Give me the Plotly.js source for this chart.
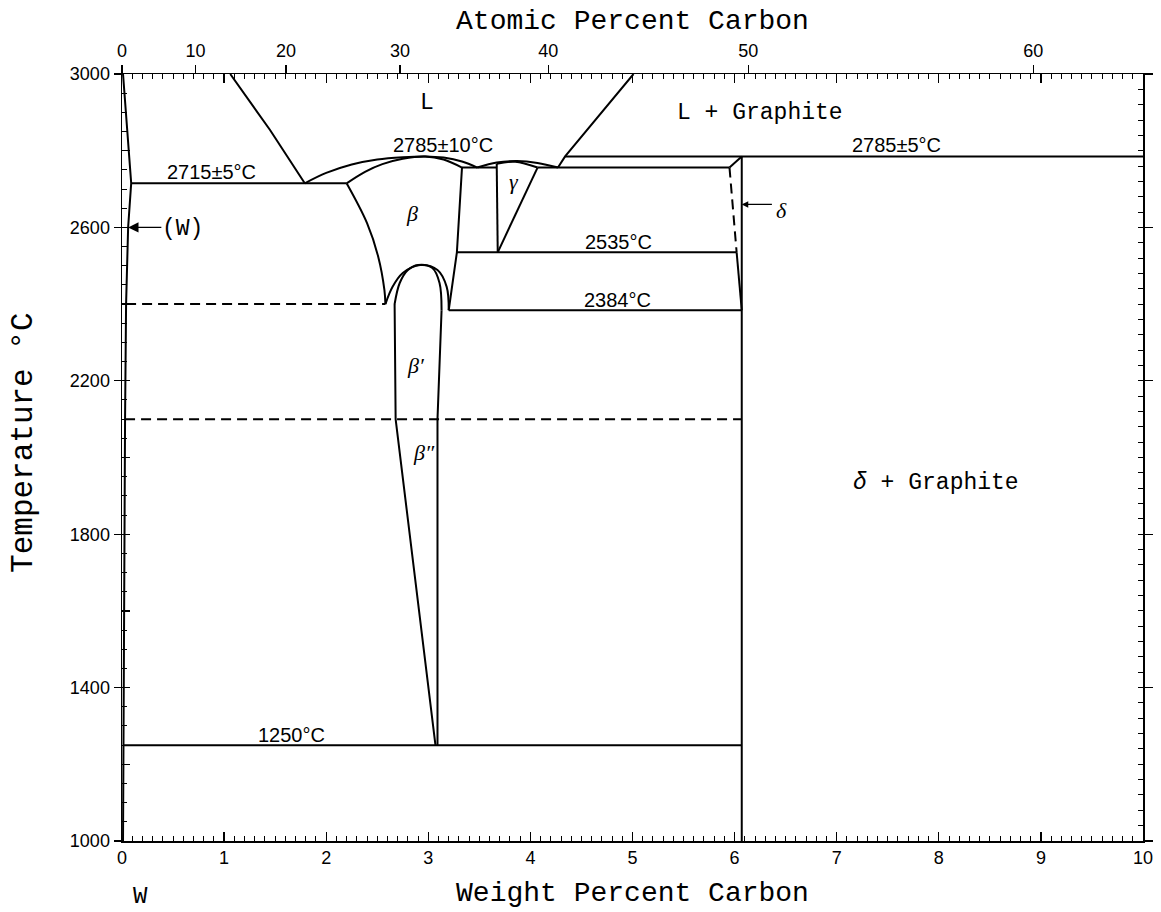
<!DOCTYPE html>
<html><head><meta charset="utf-8">
<script src="https://cdn.plot.ly/plotly-3.0.1.min.js"></script>
<style>html,body{margin:0;padding:0;background:#fff}#chart{width:1161px;height:912px}</style>
</head><body><div id="chart"></div>
<script>
// ---- phase boundaries: [weight % C, temperature °C] ----
const wSolidusSolvus = [[0.01,3000],[0.09,2715],[0.06,2600],[0.04,2400],[0.03,2100],[0.02,1250],[0.01,1000]];
const liquidusW      = [[1.06,3000],[1.45,2854],[1.79,2715]];
const eutectic2715   = [[0.09,2715],[2.20,2715]];
const liquidusBeta   = [[1.79,2715],[2.00,2742],[2.25,2764],[2.50,2777],[2.75,2783],[2.97,2785],[3.15,2782],[3.33,2772],[3.48,2756]];
const solidusBeta    = [[2.20,2715],[2.38,2745],[2.55,2765],[2.75,2779],[2.97,2785],[3.15,2777],[3.33,2756]];
const eutecticBG     = [[3.33,2756],[3.67,2756]];
const liquidusGamma  = [[3.48,2756],[3.67,2769],[3.87,2773],[4.07,2768],[4.27,2756]];
const solidusGamma   = [[3.67,2766],[3.85,2771],[4.07,2756]];
const gammaLeft      = [[3.67,2766],[3.68,2535]];
const gammaRight     = [[4.07,2756],[3.68,2535]];
const eutecticGD     = [[4.07,2756],[5.95,2756]];
const liquidusC      = [[4.27,2756],[4.34,2785],[5.01,3000]];
const line2785       = [[4.34,2785],[10,2785]];
const deltaTop       = [[5.95,2756],[6.07,2785]];
const deltaRight     = [[6.07,2785],[6.07,1000]];
const deltaLeftDash  = [[5.95,2756],[6.02,2535]];
const deltaLeftSolid = [[6.02,2535],[6.07,2384]];
const line2535       = [[3.28,2535],[6.02,2535]];
const line2384       = [[3.20,2384],[6.07,2384]];
const betaRight      = [[3.33,2756],[3.28,2535],[3.20,2384]];
const betaLeftLow    = [[2.20,2715],[2.40,2611],[2.51,2523],[2.57,2437],[2.58,2400]];
const dashed2400     = [[0.04,2400],[2.58,2400]];
const outerArch      = [[2.58,2400],[2.65,2445],[2.75,2481],[2.92,2502],[3.09,2489],[3.18,2445],[3.20,2384]];
const innerArch      = [[2.67,2400],[2.72,2455],[2.80,2489],[2.90,2502],[3.04,2494],[3.11,2455],[3.13,2384]];
const betaPrimeLeft  = [[2.67,2400],[2.68,2100],[3.07,1250]];
const betaPrimeRight = [[3.13,2384],[3.09,2100],[3.09,1250]];
const dashed2100     = [[0.03,2100],[6.07,2100]];
const line1250       = [[0.02,1250],[6.07,1250]];

// ---- axis ticks ----
const wtTicks = [0,1,2,3,4,5,6,7,8,9,10];
const atTicks = [0,10,20,30,40,50,60];
const tempTicks = [1000,1400,1800,2200,2600,3000];

// ---- region / isotherm labels ----
const labelTexts = ['L','L + Graphite','2785±10°C','2715±5°C','β','γ','2535°C','2384°C','δ','2785±5°C','β′','β″','1250°C','δ + Graphite'];
const labelX     = [2.99, 6.25, 3.14, 0.88, 2.84, 3.84, 4.86, 4.85, 6.46, 7.59, 2.88, 2.96, 1.66, 7.97];
const labelY     = [2924, 2898, 2815, 2745, 2637, 2721, 2562, 2411, 2643, 2815, 2239, 2012, 1276, 1934];

const M_C = 12.011, M_W = 183.84;
function atToWt(a){ return 100*a*M_C/(a*M_C+(100-a)*M_W); }

const solid = [wSolidusSolvus, liquidusW, eutectic2715, eutecticBG, gammaLeft, gammaRight,
  eutecticGD, liquidusC, line2785, deltaTop, deltaRight, deltaLeftSolid, line2535, line2384,
  betaRight, betaPrimeLeft, betaPrimeRight, line1250];
const curved = [liquidusBeta, solidusBeta, liquidusGamma, solidusGamma, betaLeftLow, outerArch, innerArch];
const dashed = [deltaLeftDash, dashed2400, dashed2100];

const traces = [];
function add(pts, dash, shape){
  traces.push({type:'scatter', mode:'lines', x:pts.map(p=>p[0]), y:pts.map(p=>p[1]),
    line:{color:'#000', width:2, dash:dash, shape:shape, smoothing:1}, hoverinfo:'skip', showlegend:false});
}
solid.forEach(p=>add(p,'solid','linear'));
curved.forEach(p=>add(p,'solid','spline'));
dashed.forEach(p=>add(p,'10px,6px','linear'));
// invisible traces anchoring overlay axes
[['x2','y2'],['x3','y3'],['x4','y4'],['x5','y5']].forEach(a=>{
  traces.push({type:'scatter',x:[0],y:[1000],xaxis:a[0],yaxis:a[1],mode:'markers',marker:{opacity:0},showlegend:false,hoverinfo:'skip'});
});

const NUM = 'Liberation Sans, Arial, sans-serif';
const MONO = 'Liberation Mono, Courier New, monospace';
const SERIF = 'Liberation Serif, Times New Roman, serif';

const annotations = labelTexts.map((t,i)=>{
  const greek = /^[βγδ]/.test(t) && t.length<=2;
  const mono = (t==='L'||t.indexOf('Graphite')>=0);
  return {x:labelX[i], y:labelY[i], xref:'x', yref:'y', showarrow:false,
    text: greek ? '<i>'+t+'</i>' : (t.indexOf('Graphite')>=0 && t[0]==='δ' ? '<i>δ</i>'+t.slice(1) : t),
    font:{family: mono ? MONO : (greek? SERIF : NUM), size: greek?22:(mono?23:20), color:'#000'}};
});
annotations.push({x:0.06, y:2600, xref:'x', yref:'y', ax:0.40, ay:2600, axref:'x', ayref:'y',
  showarrow:true, arrowhead:2, arrowsize:1.6, arrowwidth:1.3, arrowcolor:'#000', text:''});
annotations.push({x:0.59, y:2597, xref:'x', yref:'y', showarrow:false, text:'(W)', font:{family:MONO,size:23,color:'#000'}});
annotations.push({x:6.07, y:2660, xref:'x', yref:'y', ax:6.38, ay:2660, axref:'x', ayref:'y',
  showarrow:true, arrowhead:2, arrowsize:1, arrowwidth:1.3, arrowcolor:'#000', text:''});
annotations.push({x:0.18, y:-0.073, xref:'x', yref:'paper', yanchor:'middle', showarrow:false, text:'W', font:{family:MONO,size:24,color:'#000'}});
// vertical axis title (placed to match the reference's offset)
annotations.push({x:-0.096, y:0.519, xref:'paper', yref:'paper', xanchor:'center', yanchor:'middle', textangle:-90,
  showarrow:false, text:'Temperature °C', font:{family:MONO, size:31, color:'#000'}});

const base = {range:[0,10], showgrid:false, zeroline:false, tickcolor:'#000'};
const baseY = {range:[1000,3000], showgrid:false, zeroline:false, tickcolor:'#000'};
const layout = {
  width:1161, height:912, margin:{l:122, r:18, t:74, b:71},
  paper_bgcolor:'#fff', plot_bgcolor:'#fff', showlegend:false,
  xaxis:Object.assign({}, base, {tickmode:'array', tickvals:wtTicks, ticktext:wtTicks.map(String),
    ticks:'inside', ticklen:9, tickwidth:1.3,
    showline:true, linecolor:'#000', linewidth:1.5,
    tickfont:{family:NUM, size:18, color:'#000'},
    title:{text:'Weight Percent Carbon', font:{family:MONO, size:28, color:'#000'}, standoff:14}}),
  xaxis2:Object.assign({}, base, {overlaying:'x', side:'top', tickmode:'array',
    tickvals:atTicks.map(atToWt), ticktext:atTicks.map(String),
    ticks:'outside', ticklen:8, tickwidth:1.3,
    showline:true, linecolor:'#000', linewidth:1.5,
    tickfont:{family:NUM, size:18, color:'#000'},
    title:{text:'Atomic Percent Carbon', font:{family:MONO, size:28, color:'#000'}, standoff:3}}),
  xaxis3:Object.assign({}, base, {overlaying:'x', side:'top', tickmode:'linear', tick0:0, dtick:1,
    ticks:'inside', ticklen:9, tickwidth:1.3, showticklabels:false, showline:false}),
  xaxis4:Object.assign({}, base, {overlaying:'x', side:'bottom', tickmode:'linear', tick0:0, dtick:0.1,
    ticks:'inside', ticklen:5, tickwidth:1, showticklabels:false, showline:false}),
  xaxis5:Object.assign({}, base, {overlaying:'x', side:'top', tickmode:'linear', tick0:0, dtick:0.1,
    ticks:'inside', ticklen:5, tickwidth:1, showticklabels:false, showline:false}),
  yaxis:Object.assign({}, baseY, {tickmode:'array', tickvals:tempTicks, ticktext:tempTicks.map(String),
    ticks:'outside', ticklen:7, tickwidth:1.3,
    showline:true, linecolor:'#000', linewidth:1.5,
    tickfont:{family:NUM, size:18, color:'#000'}}),
  yaxis2:Object.assign({}, baseY, {overlaying:'y', side:'right', tickmode:'array', tickvals:tempTicks,
    ticks:'outside', ticklen:8, tickwidth:1.3, showticklabels:false,
    showline:true, linecolor:'#000', linewidth:1.5}),
  yaxis3:Object.assign({}, baseY, {overlaying:'y', side:'left', tickmode:'linear', tick0:1000, dtick:200,
    ticks:'inside', ticklen:8, tickwidth:1.3, showticklabels:false, showline:false}),
  yaxis4:Object.assign({}, baseY, {overlaying:'y', side:'left', tickmode:'linear', tick0:1000, dtick:50,
    ticks:'inside', ticklen:5, tickwidth:1, showticklabels:false, showline:false}),
  yaxis5:Object.assign({}, baseY, {overlaying:'y', side:'right', tickmode:'linear', tick0:1000, dtick:40,
    ticks:'inside', ticklen:5, tickwidth:1, showticklabels:false, showline:false}),
  annotations: annotations
};
Plotly.newPlot('chart', traces, layout, {staticPlot:true, displayModeBar:false});
</script></body></html>
